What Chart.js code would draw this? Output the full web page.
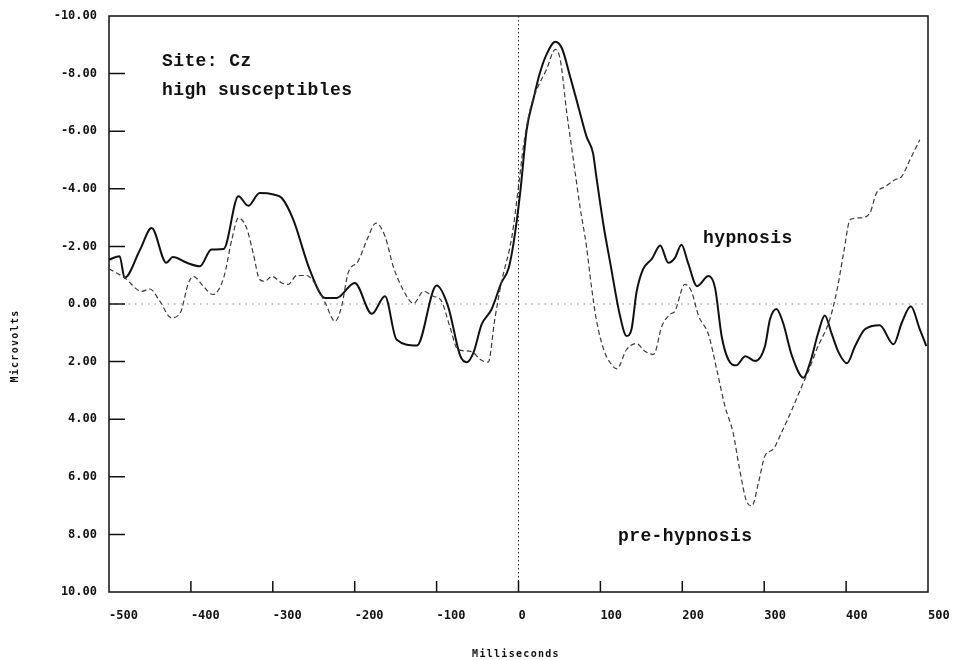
<!DOCTYPE html>
<html>
<head>
<meta charset="utf-8">
<script src="https://cdn.jsdelivr.net/npm/chart.js@4/dist/chart.umd.min.js"></script>
<style>
  body { margin: 0; background: #fff; }
</style>
</head>
<body>
<canvas id="Chart" width="959" height="660"></canvas>
<script>
// hypnosis (solid line)
const hypnosisMs = [-500, -487, -481, -462, -448, -430, -422, -405, -389, -375,
    -360, -342, -330, -316, -299, -289, -275, -255, -236, -222,
    -200, -179, -163, -149, -124, -100, -86, -71, -63, -55,
    -45, -33, -21, -12, -6, 2, 10, 18, 26, 34,
    45, 53, 63, 73, 83, 91, 95, 104, 112, 124,
    132, 138, 144, 152, 163, 173, 183, 191, 199, 207,
    218, 232, 240, 248, 256, 266, 277, 289, 301, 307,
    315, 323, 334, 348, 356, 366, 374, 382, 391, 401,
    411, 423, 441, 458, 468, 479, 490, 498];
const hypnosisUv = [-1.54, -1.66, -0.91, -1.89, -2.64, -1.43, -1.63, -1.43, -1.31, -1.89,
    -1.91, -3.74, -3.41, -3.85, -3.80, -3.68, -2.93, -1.20, -0.21, -0.21,
    -0.73, 0.34, -0.27, 1.23, 1.44, -0.64, 0.08, 1.81, 2.02, 1.69,
    0.71, 0.19, -0.73, -1.25, -2.12, -3.85, -6.05, -7.09, -8.01, -8.65,
    -9.11, -8.88, -7.90, -6.86, -5.82, -5.24, -4.43, -2.70, -1.43, 0.42,
    1.11, 0.88, -0.39, -1.20, -1.57, -2.03, -1.43, -1.60, -2.06, -1.43,
    -0.62, -0.97, -0.56, 1.11, 1.92, 2.13, 1.81, 1.98, 1.46, 0.54,
    0.17, 0.65, 1.81, 2.56, 2.04, 1.00, 0.40, 1.00, 1.69, 2.06,
    1.46, 0.88, 0.74, 1.40, 0.65, 0.08, 0.88, 1.46];

// pre-hypnosis (dashed line)
const preMs = [-500, -481, -460, -450, -438, -424, -413, -403, -397, -385,
    -373, -360, -350, -342, -332, -324, -316, -310, -301, -289,
    -281, -271, -259, -249, -236, -224, -216, -208, -196, -185,
    -174, -163, -153, -141, -128, -116, -104, -94, -84, -74,
    -63, -55, -47, -37, -29, -21, -8, 0, 6, 14,
    22, 34, 45, 51, 59, 67, 75, 83, 89, 95,
    104, 112, 120, 132, 144, 154, 165, 175, 185, 191,
    203, 211, 220, 232, 242, 252, 262, 270, 279, 285,
    293, 301, 311, 321, 334, 346, 354, 364, 380, 389,
    397, 405, 417, 429, 437, 448, 460, 468, 478, 490];
const preUv = [-1.22, -0.91, -0.44, -0.52, -0.10, 0.48, 0.31, -0.73, -0.96, -0.62,
    -0.33, -0.91, -2.24, -2.99, -2.64, -1.77, -0.85, -0.79, -0.96, -0.73,
    -0.68, -0.99, -0.99, -0.73, -0.04, 0.60, 0.08, -1.08, -1.48, -2.23,
    -2.81, -2.35, -1.31, -0.50, -0.02, -0.44, -0.27, -0.10, 0.77, 1.58,
    1.63, 1.69, 1.92, 2.02, 0.54, -0.73, -2.35, -4.08, -5.47, -6.74,
    -7.43, -8.13, -8.84, -8.48, -6.63, -5.01, -3.39, -2.00, -0.62, 0.54,
    1.58, 2.04, 2.25, 1.58, 1.37, 1.63, 1.75, 0.77, 0.36, 0.25,
    -0.68, -0.45, 0.42, 1.06, 2.27, 3.54, 4.47, 5.74, 6.89, 7.01,
    6.20, 5.27, 5.04, 4.47, 3.66, 2.85, 2.33, 1.58, 0.54, -0.50,
    -1.77, -2.93, -2.99, -3.16, -3.85, -4.08, -4.32, -4.43, -5.01, -5.70];

const xTicks = [-400, -300, -200, -100, 0, 100, 200, 300, 400];
const yTicks = [-8, -6, -4, -2, 0, 2, 4, 6, 8];

const monoFont = '"DejaVu Sans Mono", "Liberation Mono", monospace';
const textFont = '"Liberation Mono", "DejaVu Sans Mono", monospace';

function toPoints(xs, ys) {
    return xs.map((x, i) => ({ x: x, y: ys[i] }));
}

// frame, inner tick marks, zero lines and the text labels
const framePlugin = {
    id: 'frame',
    beforeDatasetsDraw(chart) {
        const ctx = chart.ctx;
        const a = chart.chartArea;
        const xs = chart.scales.x;
        const ys = chart.scales.y;
        ctx.save();
        // horizontal zero line
        ctx.strokeStyle = '#888';
        ctx.lineWidth = 1;
        ctx.setLineDash([1.5, 5]);
        ctx.beginPath();
        ctx.moveTo(a.left, ys.getPixelForValue(0));
        ctx.lineTo(a.right, ys.getPixelForValue(0));
        ctx.stroke();
        // vertical zero line
        ctx.strokeStyle = '#222';
        ctx.setLineDash([1.5, 2.5]);
        ctx.beginPath();
        ctx.moveTo(xs.getPixelForValue(0), a.top);
        ctx.lineTo(xs.getPixelForValue(0), a.bottom);
        ctx.stroke();
        ctx.setLineDash([]);
        // box
        ctx.strokeStyle = '#111';
        ctx.lineWidth = 1.5;
        ctx.strokeRect(a.left, a.top, a.right - a.left, a.bottom - a.top);
        // tick marks inside the box
        ctx.beginPath();
        xTicks.forEach(t => {
            const px = xs.getPixelForValue(t);
            ctx.moveTo(px, a.bottom);
            ctx.lineTo(px, a.bottom - 11);
        });
        yTicks.forEach(t => {
            const py = ys.getPixelForValue(t);
            ctx.moveTo(a.left, py);
            ctx.lineTo(a.left + 16, py);
        });
        ctx.stroke();
        ctx.restore();
    },
    afterDatasetsDraw(chart) {
        const ctx = chart.ctx;
        ctx.save();
        ctx.fillStyle = '#111';
        ctx.textBaseline = 'alphabetic';
        ctx.font = 'bold 18px ' + textFont;
        ctx.letterSpacing = '0.4px';
        ctx.fillText('Site: Cz', 162, 66);
        ctx.fillText('high susceptibles', 162, 95);
        ctx.fillText('hypnosis', 703, 243);
        ctx.fillText('pre-hypnosis', 618, 541);
        // axis titles
        ctx.textBaseline = 'middle';
        ctx.font = 'bold 10px ' + monoFont;
        ctx.letterSpacing = '1.3px';
        ctx.textAlign = 'center';
        ctx.fillText('Milliseconds', 516, 654);
        ctx.translate(15, 346);
        ctx.rotate(-Math.PI / 2);
        ctx.fillText('Microvolts', 0, 0);
        ctx.restore();
    }
};

const ctx = document.getElementById('Chart').getContext('2d');

const chartOptions = {
    type: 'line',
    data: {
        datasets: [{
            label: 'pre-hypnosis',
            data: toPoints(preMs, preUv),
            borderColor: '#3a3a3a',
            borderWidth: 1.2,
            borderDash: [5, 3],
            pointRadius: 0,
            cubicInterpolationMode: 'monotone',
            fill: false
        }, {
            label: 'hypnosis',
            data: toPoints(hypnosisMs, hypnosisUv),
            borderColor: '#111',
            borderWidth: 2,
            pointRadius: 0,
            cubicInterpolationMode: 'monotone',
            fill: false
        }]
    },
    options: {
        responsive: false,
        animation: false,
        layout: { padding: { top: 16, right: 31, left: 0, bottom: 0 } },
        plugins: {
            legend: { display: false },
            tooltip: { enabled: false }
        },
        scales: {
            x: {
                type: 'linear',
                min: -500,
                max: 500,
                grid: { display: false },
                border: { display: false },
                ticks: {
                    stepSize: 100,
                    align: 'start',
                    padding: 9,
                    color: '#111',
                    font: { family: monoFont, size: 12, weight: 'bold' }
                },
                afterFit(s) {
                    s.height = 68;
                    s.paddingLeft = 0;
                    s.paddingRight = 0;
                }
            },
            y: {
                min: -10,
                max: 10,
                reverse: true,
                grid: { display: false },
                border: { display: false },
                ticks: {
                    stepSize: 2,
                    padding: 4,
                    color: '#111',
                    font: { family: monoFont, size: 12, weight: 'bold' },
                    callback: v => v.toFixed(2)
                },
                afterFit(s) {
                    s.width = 109;
                }
            }
        }
    },
    plugins: [framePlugin]
};

const myChart = new Chart(ctx, chartOptions);
</script>
</body>
</html>
